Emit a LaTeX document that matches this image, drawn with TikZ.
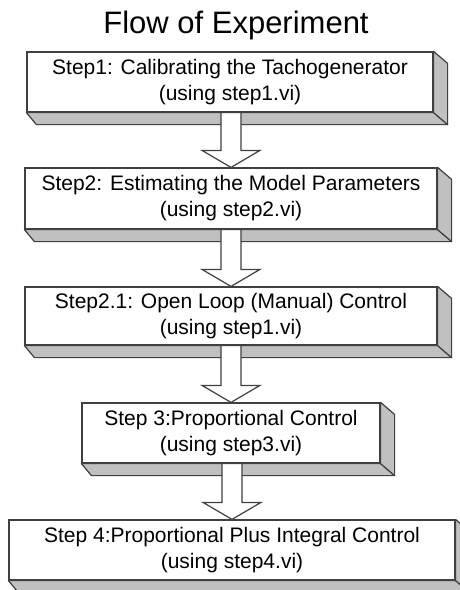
\documentclass[tikz,border=0pt]{standalone}
\usepackage{fontspec}
\setmainfont{Liberation Sans}
\definecolor{edge}{HTML}{404040}
\definecolor{side}{HTML}{C0C0C0}
\tikzset{
  stepbox/.style={draw=edge,line width=1.2pt,fill=white,rectangle,align=center,
    inner sep=0pt,font=\fontsize{21}{26}\selectfont},
  sideface/.style={draw=edge,line width=1.2pt,fill=side,line join=round},
  bigarrow/.style={draw=edge,line width=1.2pt,fill=white,line join=miter}
}
\begin{document}
\begin{tikzpicture}[x=1pt,y=-1pt]
  \useasboundingbox (0,0) rectangle (460,590);
  \node[font=\fontsize{31}{34}\selectfont] (title) at (236,25) {Flow of Experiment};

  \node[stepbox,minimum width=406pt,minimum height=60pt] (s1) at (230,82)
    {Step1: Calibrating the Tachogenerator\\(using step1.vi)};
  \node[stepbox,minimum width=412pt,minimum height=61pt] (s2) at (231,198.5)
    {Step2: Estimating the Model Parameters\\(using step2.vi)};
  \node[stepbox,minimum width=412pt,minimum height=58pt] (s21) at (231,316)
    {Step2.1: Open Loop (Manual) Control\\(using step1.vi)};
  \node[stepbox,minimum width=298pt,minimum height=60pt] (s3) at (231,433)
    {Step 3:Proportional Control\\(using step3.vi)};
  \node[stepbox,minimum width=446pt,minimum height=60pt] (s4) at (232,550)
    {Step 4:Proportional Plus Integral Control\\(using step4.vi)};

  % 3d sides of the boxes
  \foreach \b in {s1,s2,s21,s3,s4}{
    \draw[sideface] (\b.south west) -- (\b.south east) -- ([shift={(14,12)}]\b.south east)
      -- ([shift={(10,12)}]\b.south west) -- cycle;
    \draw[sideface] (\b.north east) -- ([shift={(14,12)}]\b.north east)
      -- ([shift={(14,12)}]\b.south east) -- (\b.south east) -- cycle;
  }

  % block arrows between the steps
  \foreach \a/\b in {s1/s2,s2/s21,s21/s3,s3/s4}{
    \draw[bigarrow] ([xshift=-10]\a.south -| \b.north) -- ([shift={(-10,-17)}]\b.north)
      -- ([shift={(-29,-17)}]\b.north) -- (\b.north) -- ([shift={(29,-17)}]\b.north)
      -- ([shift={(10,-17)}]\b.north) -- ([xshift=10]\a.south -| \b.north) -- cycle;
  }
\end{tikzpicture}
\end{document}
